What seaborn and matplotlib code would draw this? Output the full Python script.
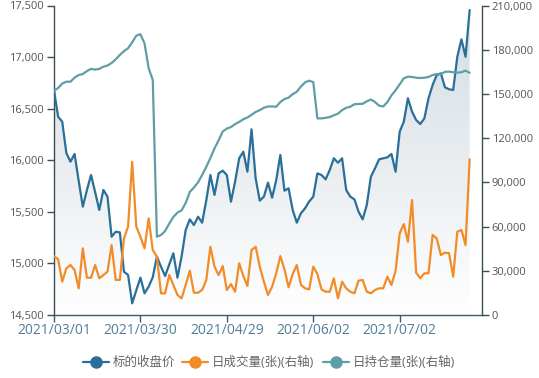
import numpy as np
import pandas as pd
import matplotlib
matplotlib.use("Agg")
import matplotlib.pyplot as plt
import seaborn as sns
from matplotlib.colors import LinearSegmentedColormap
from matplotlib.patches import PathPatch
from matplotlib.lines import Line2D
from matplotlib.ticker import FuncFormatter

# trading days 2021/03/01 .. 2021/07/30 (Qingming, May Day, Dragon Boat closed)
holidays = ["2021-04-05", "2021-05-03", "2021-05-04", "2021-05-05", "2021-06-14"]
dates = [d.strftime("%Y/%m/%d") for d in pd.bdate_range("2021-03-01", "2021-07-30")
         if d.strftime("%Y-%m-%d") not in holidays]

close_price = [
    16681, 16422, 16374, 16070, 15986, 16061, 15800, 15550, 15712, 15857,
    15690, 15518, 15712, 15647, 15259, 15307, 15301, 14920, 14888, 14613,
    14740, 14862, 14710, 14775, 14866, 15066, 14968, 14878, 14990, 15098,
    14862, 15066, 15324, 15427, 15372, 15453, 15395, 15611, 15857, 15664,
    15873, 15899, 15857, 15598, 15792, 16019, 16083, 15889, 16300, 15825,
    15608, 15647, 15783, 15637, 15808, 16051, 15705, 15728, 15518, 15395,
    15486, 15534, 15600, 15647, 15873, 15857, 15815, 15905, 16019, 15976,
    16019, 15712, 15647, 15621, 15502, 15427, 15566, 15840, 15922, 16009,
    16019, 16028, 16061, 15889, 16277, 16374, 16601, 16471, 16390, 16351,
    16406, 16601, 16729, 16826, 16843, 16707, 16688, 16681, 17004, 17172,
    17004, 17456,
]

volume = [
    40000, 37800, 22600, 31700, 33900, 30500, 18100, 45200, 25300, 25300,
    33900, 24900, 27100, 29400, 47500, 23800, 23800, 52000, 59900, 104000,
    59900, 53100, 45200, 65600, 44100, 39600, 14700, 14700, 27100, 20400,
    13600, 11300, 20400, 30100, 15100, 15100, 17000, 23800, 46300, 32800,
    27100, 33200, 17000, 21000, 15800, 35100, 26500, 19700, 44100, 46300,
    32800, 22600, 13600, 19200, 28300, 40000, 31000, 18800, 27800, 33900,
    20400, 18100, 17400, 32800, 27800, 17400, 15800, 15800, 24900, 11300,
    22600, 18100, 15800, 14700, 23300, 23800, 15800, 14700, 17000, 18100,
    18100, 26000, 20400, 30000, 55400, 61700, 49700, 78000, 28700, 24900,
    28300, 28300, 54300, 52000, 40700, 42300, 41900, 26000, 56500, 57700,
    47500, 105600,
]

open_interest = [
    152200, 154000, 157000, 158300, 158300, 161000, 162800, 163500, 165500, 167000,
    166500, 167000, 168500, 169300, 171000, 173500, 176500, 179000, 181000, 185000,
    189500, 190500, 184300, 167400, 159500, 53100, 54300, 57000, 62000, 66500,
    69500, 71000, 76000, 83500, 86500, 90000, 95000, 100500, 106500, 113000,
    118500, 124500, 126500, 127500, 129500, 131000, 132800, 134000, 135800, 137800,
    139000, 140600, 141500, 141500, 141300, 144500, 146500, 147500, 149800, 151500,
    155000, 157800, 159000, 158000, 133400, 133400, 133800, 134300, 135500, 136600,
    139000, 140600, 141300, 143000, 143200, 143300, 145000, 146200, 144500, 142000,
    141500, 144500, 149000, 152500, 156500, 160600, 161700, 161500, 161000, 160800,
    161000, 161500, 162800, 163500, 163300, 165000, 165100, 164700, 164500, 164700,
    165800, 164300,
]

legend_labels = ["标的收盘价", "日成交量(张)(右轴)", "日持仓量(张)(右轴)"]
c_price, c_vol, c_oi = "#2a6f97", "#f28c28", "#5f9ea6"

sns.set_theme(style="white")
plt.rcParams["font.family"] = ["Open Sans", "Noto Sans CJK SC", "DejaVu Sans"]

df = pd.DataFrame({"idx": np.arange(len(close_price)), "price": close_price,
                   "volume": volume, "oi": open_interest})

fig = plt.figure(figsize=(5.39, 3.78), dpi=100)
ax = fig.add_axes([54 / 539, 1 - 315 / 378, 428 / 539, 309.5 / 378])
ax2 = ax.twinx()

y_lo, y_hi = 14500, 17500
x = df["idx"].to_numpy()
p = df["price"].to_numpy()

# gradient area under the price line
cmap = LinearSegmentedColormap.from_list("g", ["#ffffff", "#e9edf0", "#d2dee7"])
grad = np.linspace(0, 1, 256).reshape(-1, 1)
im = ax.imshow(grad, extent=[0, x[-1], y_lo, p.max()], origin="lower",
               aspect="auto", cmap=cmap, zorder=1)
poly = ax.fill_between(x, p, y_lo, facecolor="none", edgecolor="none")
patch = PathPatch(poly.get_paths()[0], facecolor="none", edgecolor="none",
                  transform=ax.transData)
ax.add_patch(patch)
im.set_clip_path(patch)

sns.lineplot(data=df, x="idx", y="price", ax=ax, color=c_price, linewidth=1.6, zorder=3)
sns.lineplot(data=df, x="idx", y="volume", ax=ax2, color=c_vol, linewidth=1.6)
sns.lineplot(data=df, x="idx", y="oi", ax=ax2, color=c_oi, linewidth=1.6)

ax.set_xlim(0, len(dates) - 1)
ax.set_ylim(y_lo, y_hi)
ax2.set_ylim(0, 210000)
ax.set_yticks(np.arange(14500, 17501, 500))
ax2.set_yticks(np.arange(0, 210001, 30000))
fmt = FuncFormatter(lambda v, _: f"{int(v):,}")
ax.yaxis.set_major_formatter(fmt)
ax2.yaxis.set_major_formatter(fmt)
tick_pos = list(range(0, len(dates), 21))
ax.set_xticks(tick_pos)
ax.set_xticklabels([dates[i] for i in tick_pos])
for a in (ax, ax2):
    a.set_xlabel("")
    a.set_ylabel("")
    a.grid(False)
    a.spines["top"].set_visible(False)

axis_col = "#3d4d55"
ax.spines["right"].set_visible(False)
ax.spines["left"].set_color(axis_col)
ax.spines["bottom"].set_color("#3e5a66")
ax2.spines["left"].set_visible(False)
ax2.spines["bottom"].set_visible(False)
ax2.spines["right"].set_color(axis_col)
for s in ("left", "bottom"):
    ax.spines[s].set_linewidth(1.0)
ax2.spines["right"].set_linewidth(1.0)

ax.tick_params(axis="y", left=True, length=5, width=1, color=axis_col,
               labelsize=8, labelcolor="#555555", pad=2)
ax.tick_params(axis="x", bottom=True, length=5, width=1, color="#3e5a66",
               labelsize=10, labelcolor="#4f7f97", pad=1)
ax2.tick_params(axis="y", right=True, length=5, width=1, color=axis_col,
                labelsize=8, labelcolor="#555555", pad=2)
ax.set_zorder(ax2.get_zorder() - 1)
ax2.patch.set_visible(False)
ax.patch.set_visible(False)

# legend along the bottom
items = [(96, legend_labels[0], c_price), (195, legend_labels[1], c_vol),
         (336, legend_labels[2], c_oi)]
ly = 1 - 362 / 378
for cx, label, col in items:
    fig.add_artist(Line2D([(cx - 13) / 539, (cx + 13) / 539], [ly, ly],
                          transform=fig.transFigure, color=col, linewidth=1.6))
    fig.add_artist(Line2D([cx / 539], [ly], transform=fig.transFigure, marker="o",
                          markersize=8, color=col, linestyle="none"))
    fig.text((cx + 17) / 539, ly, label, fontsize=9, color="#666666",
             va="center", ha="left")

fig.savefig("out.png", dpi=100)
